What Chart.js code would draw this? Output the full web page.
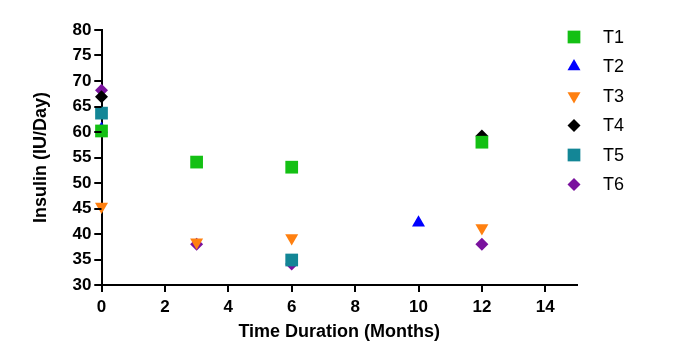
<!DOCTYPE html>
<html>
<head>
<meta charset="utf-8">
<script src="https://cdn.jsdelivr.net/npm/chart.js@4/dist/chart.umd.min.js"></script>
<style>
  html, body { margin: 0; padding: 0; background: #fff; }
  #wrap { width: 680px; height: 352px; }
</style>
</head>
<body>
<div id="wrap"><canvas id="c" width="680" height="352"></canvas></div>
<script>
const seriesNames = ['T1', 'T2', 'T3', 'T4', 'T5', 'T6'];
const t1Months = [0, 3, 6, 12];
const t1Insulin = [60.2, 54.1, 53.1, 58.0];
const t2Months = [0, 10];
const t2Insulin = [60.6, 42.2];
const t3Months = [0, 3, 6, 12];
const t3Insulin = [45.4, 38.4, 39.2, 41.2];
const t4Months = [0, 12];
const t4Insulin = [66.9, 59.2];
const t5Months = [0, 6];
const t5Insulin = [63.7, 34.9];
const t6Months = [0, 3, 6, 12];
const t6Insulin = [68.2, 38.0, 34.1, 38.0];
const xTicks = [0, 2, 4, 6, 8, 10, 12, 14];
const yTicks = [30, 35, 40, 45, 50, 55, 60, 65, 70, 75, 80];

const colors = ['#14c014', '#0000ff', '#ff8010', '#000000', '#138696', '#7a129e'];
const styles = ['rect', 'triangle', 'triangle', 'rectRot', 'rect', 'rectRot'];
const rotations = [0, 0, 180, 0, 0, 0];
const radii = [9, 7.5, 7.5, 6.5, 9, 6.5];

const xsList = [t1Months, t2Months, t3Months, t4Months, t5Months, t6Months];
const ysList = [t1Insulin, t2Insulin, t3Insulin, t4Insulin, t5Insulin, t6Insulin];

const datasets = seriesNames.map((name, i) => ({
  label: name,
  data: xsList[i].map((x, j) => ({ x: x, y: ysList[i][j] })),
  backgroundColor: colors[i],
  borderColor: colors[i],
  borderWidth: 0,
  pointStyle: styles[i],
  pointRotation: rotations[i],
  pointRadius: radii[i],
  pointHoverRadius: radii[i],
  showLine: false,
  clip: false
}));

const FONT = "'Liberation Sans', Arial, Helvetica, sans-serif";
const TICK_LEN = 7;

// outward tick marks on both axes, placed through the scales
const tickMarks = {
  id: 'tickMarks',
  afterDraw(chart) {
    const ctx = chart.ctx;
    const xs = chart.scales.x, ys = chart.scales.y;
    const area = chart.chartArea;
    ctx.save();
    ctx.fillStyle = '#000';
    xTicks.forEach(v => {
      const px = Math.round(xs.getPixelForValue(v));
      ctx.fillRect(px - 1, area.bottom, 2, TICK_LEN);
    });
    yTicks.forEach(v => {
      const py = Math.round(ys.getPixelForValue(v));
      ctx.fillRect(area.left - TICK_LEN, py - 1, TICK_LEN, 2);
    });
    ctx.restore();
  }
};

const sideLegend = {
  id: 'sideLegend',
  afterDraw(chart) {
    const ctx = chart.ctx;
    ctx.save();
    ctx.font = "18px " + FONT;
    ctx.textBaseline = 'middle';
    ctx.textAlign = 'left';
    chart.data.datasets.forEach((ds, i) => {
      const cy = 37 + i * 29.5;
      ctx.fillStyle = ds.backgroundColor;
      ctx.strokeStyle = ds.borderColor;
      Chart.helpers.drawPoint(ctx, { pointStyle: ds.pointStyle, rotation: ds.pointRotation, radius: ds.pointRadius, borderWidth: 0 }, 574, cy);
      ctx.fillStyle = '#000';
      ctx.fillText(ds.label, 603, cy + 1);
    });
    ctx.restore();
  }
};

new Chart(document.getElementById('c'), {
  type: 'scatter',
  data: { datasets: datasets },
  plugins: [tickMarks, sideLegend],
  options: {
    responsive: false,
    animation: false,
    devicePixelRatio: 1,
    layout: { padding: { top: 30, right: 103, bottom: 11, left: 30 } },
    plugins: {
      tooltip: { enabled: false },
      legend: { display: false }
    },
    scales: {
      x: {
        type: 'linear',
        min: 0,
        max: 15,
        afterBuildTicks: (s) => { s.ticks = xTicks.map(v => ({ value: v })); },
        border: { display: true, color: '#000', width: 2 },
        grid: { display: true, drawOnChartArea: false, drawTicks: true, tickLength: TICK_LEN, color: '#000', lineWidth: 2 },
        ticks: { color: '#000', padding: 7, maxRotation: 0, font: { family: FONT, size: 17, weight: 'bold', lineHeight: 1 } },
        title: { display: true, text: 'Time Duration (Months)', color: '#000', padding: { top: 0, bottom: 0 }, font: { family: FONT, size: 18, weight: 'bold', lineHeight: 1 } }
      },
      y: {
        type: 'linear',
        min: 30,
        max: 80,
        afterBuildTicks: (s) => { s.ticks = yTicks.map(v => ({ value: v })); },
        border: { display: true, color: '#000', width: 2 },
        grid: { display: true, drawOnChartArea: false, drawTicks: true, tickLength: TICK_LEN, color: '#000', lineWidth: 2 },
        ticks: { color: '#000', padding: 3, font: { family: FONT, size: 17, weight: 'bold' } },
        title: { display: true, text: 'Insulin (IU/Day)', color: '#000', padding: { top: 0, bottom: 18 }, font: { family: FONT, size: 18, weight: 'bold' } }
      }
    }
  }
});
</script>
</body>
</html>
